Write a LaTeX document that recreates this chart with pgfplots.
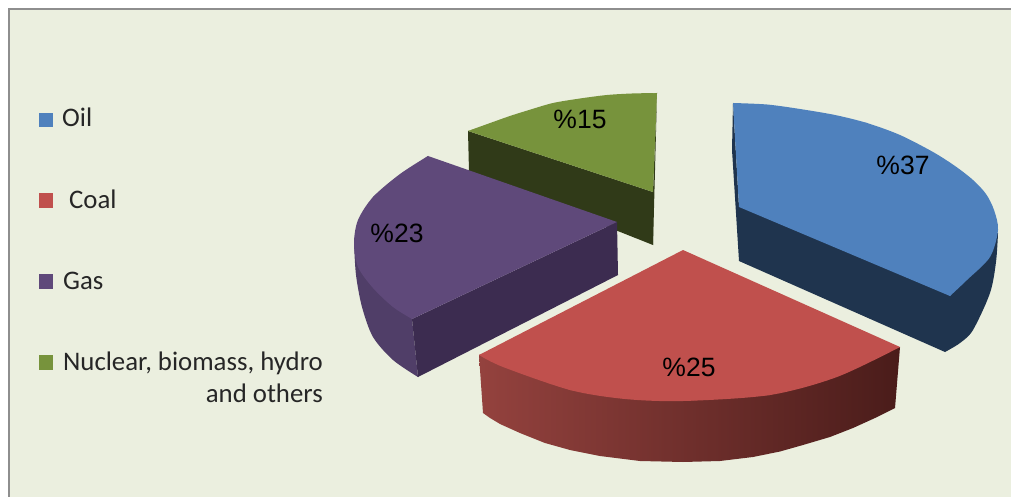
\documentclass[border=0pt]{standalone}
\usepackage{pgfplots}
\pgfplotsset{compat=1.18}
\usepackage{fontspec}
\setmainfont{Carlito}
\newfontfamily\lab{Liberation Sans}
\definecolor{bg}{HTML}{EBEFDF}
\definecolor{bord}{HTML}{8E8E8E}
\definecolor{blueT}{HTML}{4F81BD}
\definecolor{blueS}{HTML}{1F344E}
\definecolor{redT}{HTML}{C0504D}
\definecolor{redL}{HTML}{94423E}
\definecolor{redM}{HTML}{6E2C2A}
\definecolor{redR}{HTML}{4A1C1A}
\definecolor{purT}{HTML}{5F497A}
\definecolor{purS}{HTML}{3C2C50}
\definecolor{purR}{HTML}{503E68}
\definecolor{grnT}{HTML}{77933C}
\definecolor{grnS}{HTML}{303A18}
\begin{document}
\begin{tikzpicture}
\begin{axis}[
  scale only axis, width=1011pt, height=497pt,
  xmin=0, xmax=1011, ymin=0, ymax=497, y dir=reverse,
  axis lines=none, clip=true,
  every axis plot/.append style={draw=none, forget plot}]
% page and panel
\addplot[fill=white] coordinates {(0,0)(1011,0)(1011,497)(0,497)} -- cycle;
\addplot[fill=bg] coordinates {(9,9)(1011,9)(1011,497)(9,497)} -- cycle;
\addplot[draw=bord, line width=2.2pt, sharp plot] coordinates {(9,497)(9,9)(1011,9)};
% green
\addplot[fill=grnS] coordinates {(468,131)(653,192)(653,245)(469,172)} -- cycle;
\addplot[fill=grnS] coordinates {(657,93)(653,192)(653,245)(655,170)} -- cycle;
\addplot[fill=grnT] coordinates {(657,93)(570,101)(468,131)(653,192)} -- cycle;
\addplot[fill=grnT, smooth] coordinates {(657,93)(632,93.5)(607,95)(580,98.5)(553,103)(529,110)(507,117)(468,131)};
% purple
\addplot[fill=purR, smooth] coordinates {(354,243)(356,275)(362,307)(373,337)(393,360)(418,377)};
\addplot[fill=purR] coordinates {(354,243)(412,319)(418,377)(370,330)} -- cycle;
\addplot[fill=purS] coordinates {(412,319)(617,222)(618,275)(418,377)} -- cycle;
\addplot[fill=purT] coordinates {(428,156)(617,222)(412,319)(362,272)(354,243)(373,197)} -- cycle;
\addplot[fill=purT, smooth] coordinates {(428,156)(400,174)(373,197)(358,220)(354,243)(358,267)(373,288)(393,307)(412,319)};
% blue
\addplot[fill=blueS] coordinates {(733,103)(739,207)(739,261)(732,150)} -- cycle;
\addplot[fill=blueS, smooth] coordinates {(998,233)(996,262)(990,293)(973,330)(960,343)(945,352)};
\addplot[fill=blueS] coordinates {(739,207)(998,233)(985,305)(945,352)(739,261)} -- cycle;
\addplot[fill=blueT] coordinates {(733,103)(867,123)(998,230)(950,296)(739,207)} -- cycle;
\addplot[fill=blueT, smooth] coordinates {(733,103)(767,104.5)(800,109)(835,115)(867,123)(900,135)(933,152)(955,166)(973,180)(986,194)(994,210)(998,230)(990,257)(967,280)(950,296)};
% red
\addplot[shade, left color=redL, middle color=redM, right color=redR] coordinates {
 (479,355)(900,347)(895,408)(875,418)(853,428)(830,437)(803,445)(780,451.5)(753,457)(720,461)(683,462)
 (640,461)(600,456)(570,450)(545,443)(520,433)(500,424)(490,418)(483,413)} -- cycle;
\addplot[fill=redT] coordinates {(683,250)(900,347)(770,395)(683,401)(570,390)(479,355)} -- cycle;
\addplot[fill=redT, smooth] coordinates {(479,355)(503,367)(570,390)(625,399)(683,401)(770,395)(837,377)(900,347)};
% legend swatches
\addplot[fill=blueT] coordinates {(39,113)(53,113)(53,127)(39,127)} -- cycle;
\addplot[fill=redT] coordinates {(39,193)(53,193)(53,208)(39,208)} -- cycle;
\addplot[fill=purT] coordinates {(39,274)(53,274)(53,289)(39,289)} -- cycle;
\addplot[fill=grnT] coordinates {(39,355)(53,355)(53,370)(39,370)} -- cycle;
% texts
\def\lg{\fontsize{26.8}{26.8}\selectfont\color{black!85}}
\node[anchor=base west, inner sep=0] at (axis cs:62,127) {\lg Oil};
\node[anchor=base west, inner sep=0] at (axis cs:69,208) {\lg Coal};
\node[anchor=base west, inner sep=0] at (axis cs:63,289) {\lg Gas};
\node[anchor=base east, inner sep=0] at (axis cs:323,370) {\lg Nuclear, biomass, hydro};
\node[anchor=base east, inner sep=0] at (axis cs:323,402) {\lg and others};
\def\pc{\lab\fontsize{26.5}{26.5}\selectfont}
\node[inner sep=0] at (axis cs:903,165) {\pc\%37};
\node[inner sep=0] at (axis cs:689,367) {\pc\%25};
\node[inner sep=0] at (axis cs:397,233) {\pc\%23};
\node[inner sep=0] at (axis cs:580,119) {\pc\%15};
\end{axis}
\end{tikzpicture}
\end{document}
